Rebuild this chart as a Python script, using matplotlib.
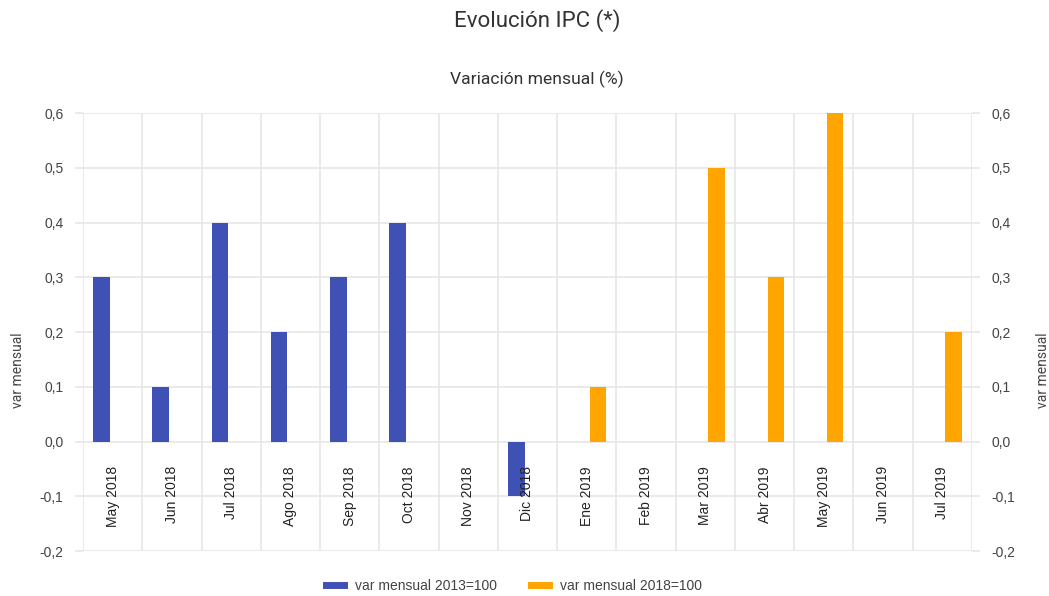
import numpy as np
import matplotlib
matplotlib.use('Agg')
import matplotlib.pyplot as plt
from matplotlib.lines import Line2D

months = ['May 2018', 'Jun 2018', 'Jul 2018', 'Ago 2018', 'Sep 2018', 'Oct 2018',
          'Nov 2018', 'Dic 2018', 'Ene 2019', 'Feb 2019', 'Mar 2019', 'Abr 2019',
          'May 2019', 'Jun 2019', 'Jul 2019']
nan = np.nan
var_2013 = [0.3, 0.1, 0.4, 0.2, 0.3, 0.4, nan, -0.1, nan, nan, nan, nan, nan, nan, nan]
var_2018 = [nan, nan, nan, nan, nan, nan, nan, nan, 0.1, nan, 0.5, 0.3, 0.6, nan, 0.2]
yticks = [-0.2, -0.1, 0.0, 0.1, 0.2, 0.3, 0.4, 0.5, 0.6]

blue = '#3f51b5'
orange = '#ffa500'
grid_c = '#e6e6e6'
txt_c = '#444444'
arial = ['Liberation Sans', 'DejaVu Sans']

plt.rcParams['font.family'] = ['Roboto', 'DejaVu Sans']

fig = plt.figure(figsize=(10.49, 5.96), dpi=100)
ax = fig.add_axes([0.0791, 0.0755, 0.8475, 0.7349])

x = np.arange(len(months))
w = 0.28
ax.bar(x - 0.19, var_2013, w, color=blue, zorder=3)
ax.bar(x + 0.19, var_2018, w, color=orange, zorder=3)

ax.set_xlim(-0.5, len(months) - 0.5)
ax.set_ylim(-0.2, 0.6)
ax.set_yticks(yticks)
ax.set_yticklabels([('%.1f' % v).replace('.', ',') for v in yticks])
ax.set_xticks(np.arange(len(months) + 1) - 0.5)
ax.set_xticklabels([])
ax.grid(True, color=grid_c, lw=1.2, zorder=0)
for s in ax.spines.values():
    s.set_visible(False)
ax.tick_params(axis='x', length=0)
ax.tick_params(axis='y', length=6, color=grid_c, width=1.2, labelsize=10,
               labelcolor=txt_c, pad=8, right=True, labelright=True)
for lab in ax.get_yticklabels(which='both'):
    lab.set_family(arial)
for lab in ax.yaxis.get_ticklabels(minor=False):
    lab.set_family(arial)

# month labels sit inside the plot, hanging below the zero line
for i, m in enumerate(months):
    ax.text(i, -0.045, m, rotation=90, ha='center', va='top', fontsize=10,
            color='#222222', family=arial, zorder=4)

fig.text(0.017, 0.379, 'var mensual', rotation=90, ha='center', va='center',
         fontsize=10, color=txt_c)
fig.text(0.994, 0.379, 'var mensual', rotation=90, ha='center', va='center',
         fontsize=10, color=txt_c)

fig.text(0.512, 0.965, 'Evolución IPC (*)', ha='center', va='center',
         fontsize=16, color='#333333')
fig.text(0.512, 0.866, 'Variación mensual (%)', ha='center', va='center',
         fontsize=12.6, color='#333333')

handles = [Line2D([], [], color=blue, lw=5), Line2D([], [], color=orange, lw=5)]
fig.legend(handles, ['var mensual 2013=100', 'var mensual 2018=100'],
           loc='center', bbox_to_anchor=(0.49, 0.017), ncol=2, frameon=False,
           handlelength=1.25, handletextpad=0.8, columnspacing=2.5,
           labelcolor=txt_c, prop={'family': arial, 'size': 10})

fig.savefig('out.png', dpi=100)
